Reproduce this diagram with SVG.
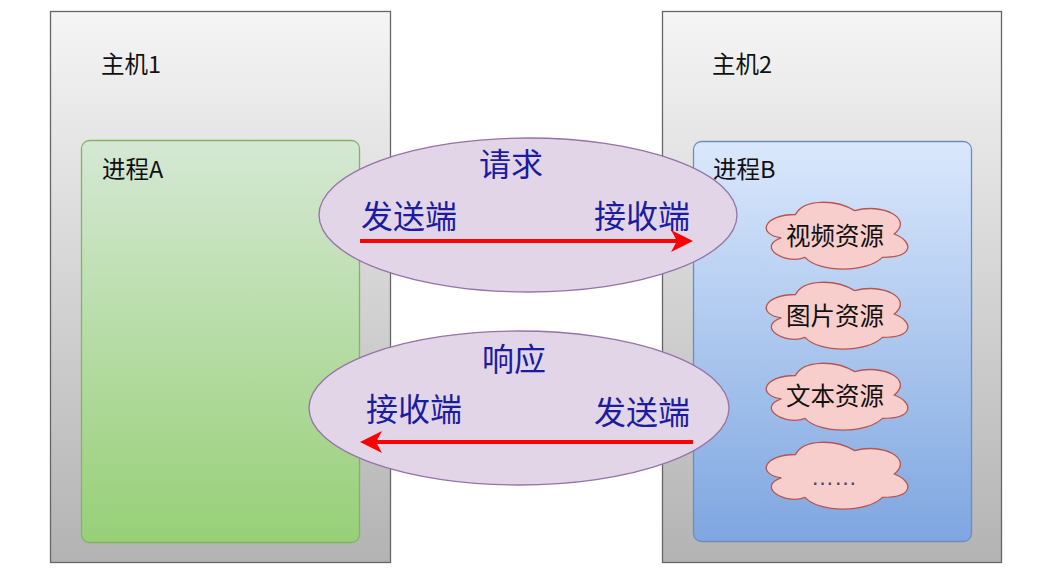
<svg xmlns="http://www.w3.org/2000/svg" width="1058" height="573" viewBox="0 0 1058 573">
<style>
.host{stroke:#666666;stroke-width:1.3}
.pa{fill:url(#gA);stroke:#82b366;stroke-width:1.3}
.pb{fill:url(#gB);stroke:#6c8ebf;stroke-width:1.3}
.ell{fill:#e1d5e7;stroke:#9673a6;stroke-width:1.3}
.lbl{font-family:"Noto Sans CJK SC","Liberation Sans",sans-serif;font-size:23.5px;fill:#111111}
.big{font-family:"Noto Sans CJK SC",sans-serif;font-size:32px;fill:#1c1ca0}
.cl{font-family:"Noto Sans CJK SC",sans-serif;font-size:24.5px;fill:#111111;text-anchor:middle}
.dots{font-family:"Liberation Sans",sans-serif;font-size:23px;fill:#444466;text-anchor:middle}
.arr{stroke:#ff0000;stroke-width:4;fill:none}
</style>
<defs>
<linearGradient id="gH" x1="0" y1="0" x2="0" y2="1"><stop offset="0" stop-color="#f5f5f5"/><stop offset="1" stop-color="#b3b3b3"/></linearGradient>
<linearGradient id="gA" x1="0" y1="0" x2="0" y2="1"><stop offset="0" stop-color="#d5e8d4"/><stop offset="1" stop-color="#97d077"/></linearGradient>
<linearGradient id="gB" x1="0" y1="0" x2="0" y2="1"><stop offset="0" stop-color="#dae8fc"/><stop offset="1" stop-color="#7ea6e0"/></linearGradient>
<path id="cloud" d="M39.5,19.5 C7.9,19.5 0,39 25.28,42.9 C0,51.48 28.44,70.2 48.98,62.4 C63.2,78 110.6,78 126.4,62.4 C158,62.4 158,46.8 138.25,39 C158,23.4 126.4,7.8 98.75,15.6 C79,3.9 47.4,3.9 39.5,19.5 Z" fill="#f8cecc" stroke="#b85450" stroke-width="1.3"/>
<marker id="ah" markerUnits="userSpaceOnUse" markerWidth="26" markerHeight="24" refX="9" refY="11" orient="auto">
<path d="M0,0 L22,11 L0,22 L6,11 Z" fill="#ff0000"/>
</marker>
</defs>
<rect width="1058" height="573" fill="#ffffff"/>
<g id="host1">
<rect class="host" x="50.5" y="11.5" width="340" height="551" fill="url(#gH)"/>
<text class="lbl" x="101" y="73">主机1</text>
</g>
<g id="host2">
<rect class="host" x="662.5" y="11.5" width="339" height="551" fill="url(#gH)"/>
<text class="lbl" x="712" y="73">主机2</text>
</g>
<g id="processA">
<rect class="pa" x="81.5" y="140.5" width="278" height="402" rx="8"/>
<text class="lbl" x="102" y="178">进程A</text>
</g>
<g id="processB">
<rect class="pb" x="693.5" y="141.5" width="278" height="400" rx="8"/>
<text class="lbl" x="713" y="178">进程B</text>
</g>
<g id="request">
<ellipse class="ell" cx="528" cy="215" rx="209" ry="77"/>
<text class="big" x="479" y="176">请求</text>
<text class="big" x="361" y="228">发送端</text>
<text class="big" x="594" y="228">接收端</text>
</g>
<g id="response">
<ellipse class="ell" cx="519" cy="408" rx="210" ry="77"/>
<text class="big" x="482" y="371">响应</text>
<text class="big" x="366" y="421">接收端</text>
<text class="big" x="594" y="424">发送端</text>
</g>
<g id="res-video">
<use href="#cloud" x="756" y="195"/>
<text class="cl" x="835" y="245">视频资源</text>
</g>
<g id="res-image">
<use href="#cloud" x="756" y="275"/>
<text class="cl" x="835" y="325">图片资源</text>
</g>
<g id="res-text">
<use href="#cloud" x="756" y="356"/>
<text class="cl" x="835" y="405">文本资源</text>
</g>
<g id="res-more">
<use href="#cloud" x="756" y="435"/>
<text class="dots" x="834" y="485">……</text>
</g>
<g id="connectors">
<line class="arr" x1="360" y1="241" x2="680" y2="241" marker-end="url(#ah)"/>
<line class="arr" x1="693" y1="442" x2="373" y2="442" marker-end="url(#ah)"/>
</g>
</svg>
